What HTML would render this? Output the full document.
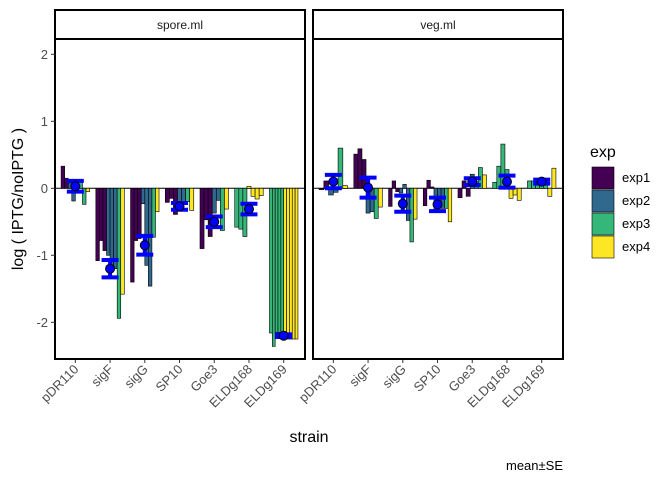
<!DOCTYPE html>
<html><head><meta charset="utf-8"><style>
body{margin:0;background:#fff;}
svg text{font-family:"Liberation Sans",Arial,sans-serif;}
</style></head><body>
<svg id="c" width="672" height="480" xmlns="http://www.w3.org/2000/svg"></svg>
<script>
const categories=["pDR110","sigF","sigG","SP10","Goe3","ELDg168","ELDg169"];
const panels=["spore.ml","veg.ml"];
const expNames=["exp1","exp2","exp3","exp4"];
// per panel, per category: [exp index, value]
const sporeBars=[
 [[0,0.33],[0,0.15],[1,0.08],[1,-0.19],[1,0.05],[2,0.1],[2,-0.24],[3,-0.05]],
 [[0,-1.08],[0,-0.78],[0,-0.93],[1,-1.0],[1,-1.17],[1,-1.2],[2,-1.94],[3,-1.58]],
 [[0,-1.4],[0,-0.78],[0,-0.75],[1,-0.23],[1,-1.15],[1,-1.46],[2,-0.73],[3,-0.35]],
 [[0,-0.21],[0,-0.15],[0,-0.39],[1,-0.2],[1,-0.2],[2,-0.2],[3,-0.33]],
 [[0,-0.9],[0,-0.47],[0,-0.72],[1,-0.37],[1,-0.18],[2,-0.63],[3,-0.31]],
 [[2,-0.58],[2,-0.61],[2,-0.72],[3,0.03],[3,-0.12],[3,-0.16],[3,-0.11]],
 [[2,-2.16],[2,-2.36],[2,-2.15],[2,-2.15],[2,-2.15],[3,-2.25],[3,-2.25],[3,-2.25],[3,-2.25],[3,-2.25]]
];
const vegBars=[
 [[0,-0.02],[0,0.11],[1,-0.1],[1,-0.06],[2,0.6],[3,0.04]],
 [[0,0.51],[0,0.59],[0,0.43],[1,-0.37],[1,-0.35],[2,-0.45],[3,-0.28]],
 [[0,-0.27],[0,0.11],[0,-0.05],[1,-0.07],[1,0.06],[1,-0.48],[2,-0.8],[3,-0.46]],
 [[0,-0.26],[0,0.12],[0,0.02],[1,-0.35],[1,-0.3],[1,-0.3],[2,-0.3],[3,-0.5]],
 [[0,-0.14],[0,0.11],[0,-0.12],[1,0.21],[1,0.1],[2,0.31],[3,0.2]],
 [[2,0.09],[2,0.33],[2,0.66],[2,0.28],[3,-0.15],[3,-0.1],[3,-0.18]],
 [[2,0.11],[2,0.11],[2,0.11],[2,0.11],[2,0.11],[3,-0.12],[3,0.3]]
];
const sporeMean=[0.03,-1.2,-0.85,-0.27,-0.5,-0.31,-2.2];
const sporeSE=[0.08,0.13,0.14,0.05,0.08,0.08,0.02];
const vegMean=[0.1,0.01,-0.23,-0.24,0.1,0.1,0.1];
const vegSE=[0.1,0.15,0.12,0.1,0.05,0.09,0.03];
const yTicks=[2,1,0,-1,-2];
const colors=["#440154","#31688E","#35B779","#FDE725"];

const svg=document.getElementById('c');
const NS="http://www.w3.org/2000/svg";
function mk(t,a,p){const e=document.createElementNS(NS,t);for(const k in a)e.setAttribute(k,a[k]);(p||svg).appendChild(e);return e;}
const y=v=>188.3-v*67;
const pLeft=[55,313],pRight=[305,563],pTop=39,pBot=359;
const step=249/7.17;
const x=(p,i)=>pLeft[p]+step*(0.6+i)-0.5;
const data=[[sporeBars,sporeMean,sporeSE],[vegBars,vegMean,vegSE]];
for(let p=0;p<2;p++){
 const g=mk('g',{});
 
 
 const st=mk('rect',{x:pLeft[p],y:10,width:pRight[p]-pLeft[p],height:29,fill:'#fff',stroke:'#000','stroke-width':2},g);
 
 const stt=mk('text',{x:(pLeft[p]+pRight[p])/2,y:29,'font-size':12,'text-anchor':'middle',fill:'#1a1a1a'},g);stt.textContent=panels[p];
 
 mk('line',{x1:pLeft[p],x2:pRight[p],y1:y(0),y2:y(0),stroke:'#000','stroke-width':1},g);
 const [bars,mean,se]=data[p];
 const gw=step*0.82;
 categories.forEach((c,i)=>{
  const n=bars[i].length,bw=gw/n,x0=x(p,i)-gw/2;
  bars[i].forEach((b,j)=>{
   const v=b[1];
   const r=mk('rect',{x:x0+j*bw,y:Math.min(y(v),y(0)),width:bw,height:Math.abs(y(v)-y(0)),fill:colors[b[0]],stroke:'#000','stroke-width':0.6},g);
   
  });
 });
 categories.forEach((c,i)=>{
  const cx=x(p,i),m=mean[i],s=se[i];
  const eg=mk('g',{},g);
  
  mk('line',{x1:cx,x2:cx,y1:y(m+s),y2:y(m-s),stroke:'#0000ff','stroke-width':4},eg);
  mk('line',{x1:cx-8.5,x2:cx+8.5,y1:y(m+s),y2:y(m+s),stroke:'#0000ff','stroke-width':4},eg);
  mk('line',{x1:cx-8.5,x2:cx+8.5,y1:y(m-s),y2:y(m-s),stroke:'#0000ff','stroke-width':4},eg);
  const pt=mk('circle',{cx:cx,cy:y(m),r:4.5,fill:'#0000ff',stroke:'#000','stroke-width':1},eg);
  
  mk('line',{x1:cx,x2:cx,y1:pBot,y2:pBot+4,stroke:'#333','stroke-width':1},g);
  const t=mk('text',{transform:`translate(${cx+4},${pBot+11}) rotate(-45)`,'font-size':13,'text-anchor':'end',fill:'#4d4d4d'},g);
  t.textContent=c;
 });
 mk('rect',{x:pLeft[p],y:pTop,width:pRight[p]-pLeft[p],height:pBot-pTop,fill:'none',stroke:'#000','stroke-width':2},g);
}
yTicks.forEach(v=>{
 mk('line',{x1:51,x2:55,y1:y(v),y2:y(v),stroke:'#333','stroke-width':1});
 const t=mk('text',{x:48,y:y(v)+4.5,'font-size':13,'text-anchor':'end',fill:'#4d4d4d'});
 t.textContent=v;
});
let t=mk('text',{x:309,y:442,'font-size':16,'text-anchor':'middle',fill:'#000'});t.textContent='strain';

t=mk('text',{transform:'translate(23,199) rotate(-90)','font-size':16,'text-anchor':'middle',fill:'#000'});t.textContent='log ( IPTG/noIPTG )';

t=mk('text',{x:563,y:470,'font-size':13,'text-anchor':'end',fill:'#000'});t.textContent='mean±SE';

const lg=mk('g',{});
t=mk('text',{x:590,y:157,'font-size':16,fill:'#000'},lg);t.textContent='exp';

expNames.forEach((n,i)=>{
 const e=mk('g',{},lg);
 mk('rect',{x:592,y:167+i*23,width:22,height:22,fill:colors[i],stroke:'#000','stroke-width':0.6},e);
 const tt=mk('text',{x:622,y:182+i*23,'font-size':13,fill:'#000'},e);tt.textContent=n;
});
</script>
</body></html>
